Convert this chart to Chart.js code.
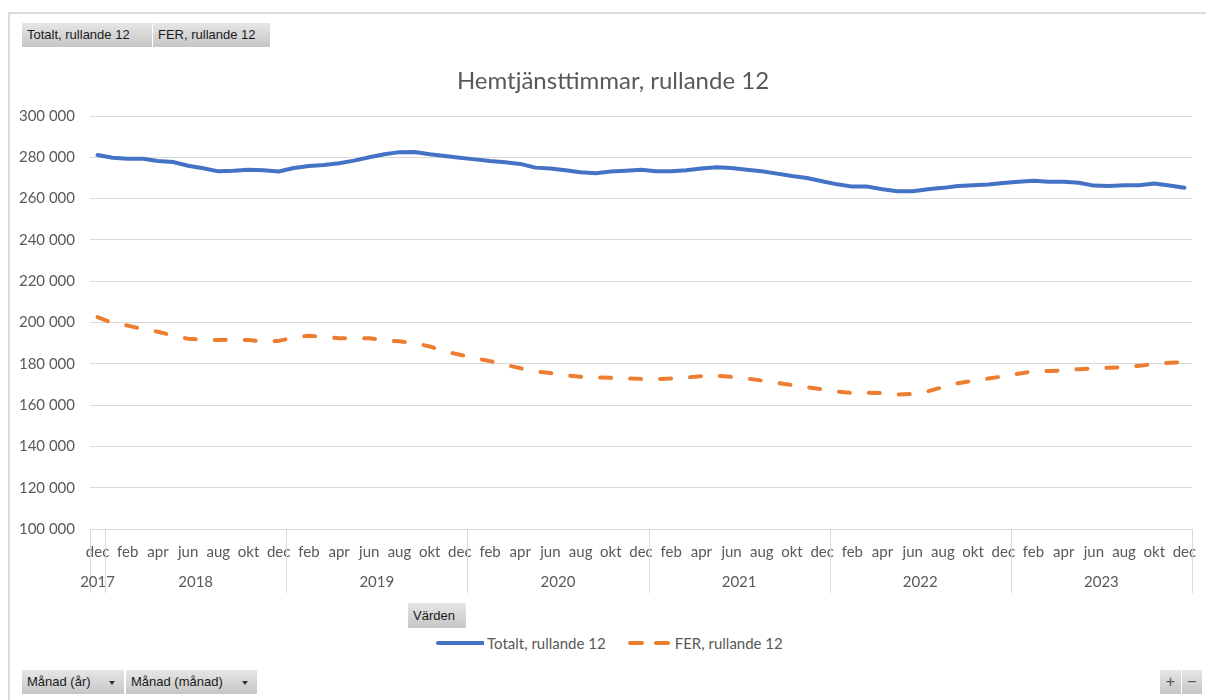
<!DOCTYPE html>
<html lang="sv">
<head>
<meta charset="utf-8">
<title>Hemtjänsttimmar, rullande 12</title>
<script src="https://cdn.jsdelivr.net/npm/chart.js@4.4.1/dist/chart.umd.min.js"></script>
<style>
  html, body { margin: 0; padding: 0; background: #fff; }
  body { width: 1206px; height: 700px; position: relative; overflow: hidden; font-family: Lato, sans-serif; }
  #frame { position: absolute; left: 8px; top: 12px; width: 1210px; height: 700px;
           border-left: 2px solid #dadada; border-top: 2px solid #dadada; box-sizing: border-box; }
  #chart { position: absolute; left: 0; top: 0; }
  #title { position: absolute; left: 0; top: 64px; width: 1226px; height: 32px; line-height: 32px;
           text-align: center; font-family: Lato, sans-serif; font-size: 24px; color: #595959; }
  .btn { position: absolute; height: 24px; line-height: 24px; box-sizing: border-box; padding: 0 5px;
         font-family: "Liberation Sans", sans-serif; font-size: 13px; color: #1a1a1a; white-space: nowrap;
         background: linear-gradient(#e6e6e6, #c6c6c6); }
  .btn .arrow { position: absolute; right: 9px; top: 11px; width: 0; height: 0;
                border-left: 3px solid transparent; border-right: 3px solid transparent; border-top: 4px solid #333; }
  .btn.small { text-align: center; padding: 0; font-size: 16px; color: #555; }
  #legend { position: absolute; left: 436px; top: 633px; height: 20px; display: flex; align-items: center;
            font-family: Lato, sans-serif; font-size: 15px; color: #595959; }
  #legend .item { display: flex; align-items: center; margin-right: 18px; }
  #legend svg { display: block; margin-right: 3px; }
</style>
</head>
<body>
<div id="frame"></div>
<canvas id="chart" width="1206" height="600"></canvas>
<div id="title">Hemtjänsttimmar, rullande 12</div>

<div class="btn" style="left:22px; top:23px; width:130px;">Totalt, rullande 12</div>
<div class="btn" style="left:153px; top:23px; width:117px;">FER, rullande 12</div>
<div class="btn" style="left:408px; top:603px; width:58px; height:25px; line-height:25px;">Värden</div>
<div id="legend"></div>
<div class="btn" style="left:22px; top:670px; width:102px;">Månad (år)<span class="arrow"></span></div>
<div class="btn" style="left:126px; top:670px; width:131px;">Månad (månad)<span class="arrow"></span></div>
<div class="btn small" style="left:1160px; top:670px; width:21px;">+</div>
<div class="btn small" style="left:1182px; top:670px; width:20px;">−</div>

<script>
// Månader från dec 2017 till dec 2023
const monthNames = ['jan', 'feb', 'mar', 'apr', 'maj', 'jun', 'jul', 'aug', 'sep', 'okt', 'nov', 'dec'];
const firstYear = 2017;
const firstMonth = 11; // december

const totalt = [
    281100, 279800, 279300, 279300, 278200, 277700, 275900, 274700, 273200, 273500,
    274000, 273700, 273100, 274800, 275800, 276300, 277100, 278400, 280000, 281500,
    282500, 282600, 281500, 280600, 279800, 279000, 278200, 277600, 276800, 275000,
    274600, 273700, 272800, 272300, 273100, 273500, 274000, 273200, 273200, 273700,
    274600, 275200, 274800, 274000, 273200, 272100, 270900, 270000, 268400, 266900,
    265800, 265800, 264500, 263600, 263600, 264500, 265200, 266100, 266500, 266800,
    267600, 268200, 268600, 268200, 268200, 267700, 266300, 266100, 266500, 266500,
    267300, 266300, 265300
];

const fer = [
    202600, 199800, 198500, 196800, 195500, 193700, 192100, 191800, 191500, 191800,
    191500, 190800, 191100, 192700, 193600, 192900, 192400, 192300, 192400, 191300,
    190900, 190000, 188400, 186000, 184400, 182800, 181300, 179500, 177900, 176300,
    175500, 174500, 173700, 173400, 173200, 172900, 172700, 172600, 172900, 173400,
    174000, 174200, 173700, 172900, 171900, 170800, 169700, 168700, 167700, 166600,
    165800, 166000, 165800, 165100, 165400, 166700, 168700, 170600, 171800, 172900,
    173900, 175200, 176300, 176500, 176800, 177400, 177700, 178100, 178400, 179000,
    179900, 180500, 180800
];

const yMin = 100000;
const yMax = 300000;
const yStep = 20000;

const monthLabels = [];
const yearLabels = [];
for (let i = 0; i < totalt.length; i++) {
    monthLabels.push(monthNames[(firstMonth + i) % 12]);
    yearLabels.push(String(firstYear + Math.floor((firstMonth + i) / 12)));
}

const textColor = '#595959';
const gridColor = '#d9d9d9';
Chart.defaults.font.family = 'Lato, sans-serif';
Chart.defaults.color = textColor;

function formatThousands(v) {
    return String(v).replace(/\B(?=(\d{3})+(?!\d))/g, ' ');
}

// år-raden under månaderna, med avdelare mellan åren
const yearAxis = {
    id: 'yearAxis',
    afterDraw(chart) {
        const x = chart.scales.x;
        const ctx = chart.ctx;
        const bottom = chart.chartArea.bottom;
        const step = x.getPixelForValue(1) - x.getPixelForValue(0);

        const groups = [];
        yearLabels.forEach((y, i) => {
            const last = groups[groups.length - 1];
            if (last && last.year === y) last.end = i;
            else groups.push({ year: y, start: i, end: i });
        });

        ctx.save();
        ctx.strokeStyle = gridColor;
        ctx.lineWidth = 1;
        ctx.fillStyle = textColor;
        ctx.font = '15px Lato, sans-serif';
        ctx.textAlign = 'center';
        ctx.textBaseline = 'middle';

        const vline = (px) => {
            const xx = Math.round(px) + 0.5;
            ctx.beginPath();
            ctx.moveTo(xx, bottom);
            ctx.lineTo(xx, bottom + 64);
            ctx.stroke();
        };

        groups.forEach((g, k) => {
            const left = x.getPixelForValue(g.start) - step / 2;
            const right = x.getPixelForValue(g.end) + step / 2;
            vline(left);
            if (k === groups.length - 1) vline(right);
            ctx.fillText(g.year, (left + right) / 2, bottom + 53);
        });
        ctx.restore();
    }
};

const chart = new Chart(document.getElementById('chart'), {
    type: 'line',
    data: {
        labels: monthLabels,
        datasets: [{
            label: 'Totalt, rullande 12',
            data: totalt,
            borderColor: '#4472c4',
            borderWidth: 4,
            borderCapStyle: 'round',
            borderJoinStyle: 'round',
            pointRadius: 0,
            tension: 0
        },
        {
            label: 'FER, rullande 12',
            data: fer,
            borderColor: '#ed7d31',
            borderWidth: 4,
            borderDash: [11, 19],
            borderCapStyle: 'round',
            borderJoinStyle: 'round',
            pointRadius: 0,
            tension: 0
        }]
    },
    options: {
        responsive: false,
        animation: false,
        events: [],
        layout: {
            padding: { left: 8, right: 14, top: 116, bottom: 0 }
        },
        plugins: {
            legend: { display: false },
            tooltip: { enabled: false },
            title: { display: false }
        },
        scales: {
            x: {
                offset: true,
                grid: { display: false, drawTicks: false },
                border: { display: true, color: gridColor, width: 1 },
                ticks: {
                    autoSkip: false,
                    maxRotation: 0,
                    padding: 14,
                    font: { size: 15 },
                    callback: function (val, i) {
                        return i % 2 === 0 ? this.getLabelForValue(val) : null;
                    }
                },
                afterFit: (scale) => {
                    scale.height = 71;
                    scale.paddingLeft = 0;
                    scale.paddingRight = 0;
                }
            },
            y: {
                min: yMin,
                max: yMax,
                grid: { color: gridColor, lineWidth: 1, drawTicks: false },
                border: { display: false },
                ticks: {
                    stepSize: yStep,
                    padding: 15,
                    font: { size: 15 },
                    callback: (v) => formatThousands(v)
                },
                afterFit: (scale) => { scale.width = 82; }
            }
        }
    },
    plugins: [yearAxis]
});

// förklaring byggd från dataserierna
const legendEl = document.getElementById('legend');
chart.data.datasets.forEach((ds) => {
    const item = document.createElement('span');
    item.className = 'item';
    const dashed = Array.isArray(ds.borderDash);
    const line = dashed
        ? `<line x1="6" y1="4" x2="44" y2="4" stroke="${ds.borderColor}" stroke-width="4" stroke-linecap="round" stroke-dasharray="12 14"/>`
        : `<line x1="2" y1="4" x2="47" y2="4" stroke="${ds.borderColor}" stroke-width="4" stroke-linecap="round"/>`;
    item.innerHTML = `<svg width="48" height="8">${line}</svg><span>${ds.label}</span>`;
    legendEl.appendChild(item);
});
</script>
</body>
</html>
